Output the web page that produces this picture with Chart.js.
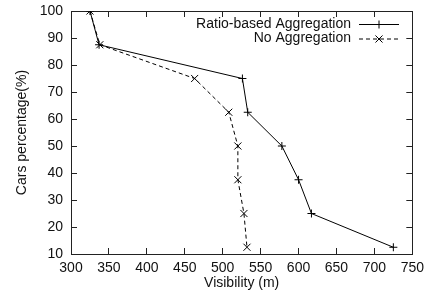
<!DOCTYPE html>
<html>
<head>
<meta charset="utf-8">
<script src="https://cdn.jsdelivr.net/npm/chart.js@4/dist/chart.umd.min.js"></script>
<style>
  body { margin: 0; background: #fff; }
  canvas { display: block; }
</style>
</head>
<body>
<canvas id="chart" width="436" height="304"></canvas>
<script>
// values
const carsPercentage = [100, 87.5, 75, 62.5, 50, 37.5, 25, 12.5];
const visibilityRatio = [325, 337, 526, 533, 578, 600, 617, 725];
const visibilityNone = [325, 338, 463, 508, 520, 520, 528, 532];
const seriesNames = ['Ratio-based Aggregation', 'No Aggregation'];
const xTicks = [300, 350, 400, 450, 500, 550, 600, 650, 700, 750];
const yTicks = [10, 20, 30, 40, 50, 60, 70, 80, 90, 100];

const FONT = 'Liberation Sans, Arial, Helvetica, sans-serif';
const INK = '#111';
const FRAME = '#222';

function toPoints(xs, ys) {
    return xs.map((x, i) => ({ x: x, y: ys[i] }));
}

function drawMarker(ctx, style, x, y, r) {
    ctx.beginPath();
    if (style === 'cross') {
        ctx.moveTo(x - r, y); ctx.lineTo(x + r, y);
        ctx.moveTo(x, y - r); ctx.lineTo(x, y + r);
    } else {
        const d = r * Math.SQRT1_2;
        ctx.moveTo(x - d, y - d); ctx.lineTo(x + d, y + d);
        ctx.moveTo(x - d, y + d); ctx.lineTo(x + d, y - d);
    }
    ctx.stroke();
}

// key in the top right corner: label first, then the line sample (gnuplot style)
const keyPlugin = {
    id: 'gnuplotKey',
    afterDraw(chart) {
        const ctx = chart.ctx;
        ctx.save();
        ctx.font = '14px ' + FONT;
        ctx.fillStyle = INK;
        ctx.textAlign = 'right';
        ctx.textBaseline = 'middle';
        chart.data.datasets.forEach((ds, i) => {
            const y = 24 + i * 14.5;
            ctx.fillText(ds.label, 351, y);
            ctx.strokeStyle = ds.borderColor;
            ctx.lineWidth = 1;
            ctx.setLineDash(ds.borderDash || []);
            ctx.beginPath();
            ctx.moveTo(359, y + 0.5); ctx.lineTo(399, y + 0.5);
            ctx.stroke();
            ctx.setLineDash([]);
            drawMarker(ctx, ds.pointStyle, 379, y + 0.5, ds.pointRadius);
        });
        ctx.restore();
    }
};

// frame sides: inward tick marks, no grid lines inside the plot
const frameGrid = { display: true, drawOnChartArea: false, drawTicks: true, tickLength: -6, color: FRAME, lineWidth: 1 };
const frameBorder = { display: true, color: FRAME, width: 1 };
const tickFont = { family: FONT, size: 14 };

new Chart(document.getElementById('chart'), {
    type: 'line',
    data: {
        datasets: [{
            label: seriesNames[0],
            data: toPoints(visibilityRatio, carsPercentage),
            borderColor: '#000',
            borderWidth: 1,
            pointStyle: 'cross',
            pointRadius: 4,
            fill: false,
            tension: 0
        }, {
            label: seriesNames[1],
            data: toPoints(visibilityNone, carsPercentage),
            borderColor: '#000',
            borderWidth: 1,
            borderDash: [4, 3],
            pointStyle: 'crossRot',
            pointRadius: 5,
            fill: false,
            tension: 0
        }]
    },
    options: {
        responsive: false,
        animation: false,
        layout: { padding: { top: 11, right: 20, left: 0, bottom: 0 } },
        plugins: {
            legend: { display: false },
            tooltip: { enabled: false }
        },
        scales: {
            x: {
                type: 'linear',
                position: 'bottom',
                min: xTicks[0],
                max: xTicks[xTicks.length - 1],
                afterFit(s) { s.height = 50; },
                grid: frameGrid,
                border: frameBorder,
                ticks: { stepSize: 50, padding: 12, color: INK, font: tickFont },
                title: {
                    display: true,
                    text: 'Visibility (m)',
                    color: INK,
                    padding: { top: 4, bottom: 12 },
                    font: tickFont
                }
            },
            xTop: {
                type: 'linear',
                position: 'top',
                min: xTicks[0],
                max: xTicks[xTicks.length - 1],
                afterFit(s) { s.height = 0; },
                grid: frameGrid,
                border: frameBorder,
                ticks: { stepSize: 50, display: false }
            },
            y: {
                type: 'linear',
                position: 'left',
                min: yTicks[0],
                max: yTicks[yTicks.length - 1],
                afterFit(s) { s.width = 71; s.paddingTop = 0; s.paddingBottom = 0; },
                grid: frameGrid,
                border: frameBorder,
                ticks: { stepSize: 10, padding: 14, color: INK, font: tickFont },
                title: {
                    display: true,
                    text: 'Cars percentage(%)',
                    color: INK,
                    padding: { top: 14, bottom: 0 },
                    font: tickFont
                }
            },
            yRight: {
                type: 'linear',
                position: 'right',
                min: yTicks[0],
                max: yTicks[yTicks.length - 1],
                afterFit(s) { s.width = 0; s.paddingTop = 0; s.paddingBottom = 0; },
                grid: frameGrid,
                border: frameBorder,
                ticks: { stepSize: 10, display: false }
            }
        }
    },
    plugins: [keyPlugin]
});
</script>
</body>
</html>
